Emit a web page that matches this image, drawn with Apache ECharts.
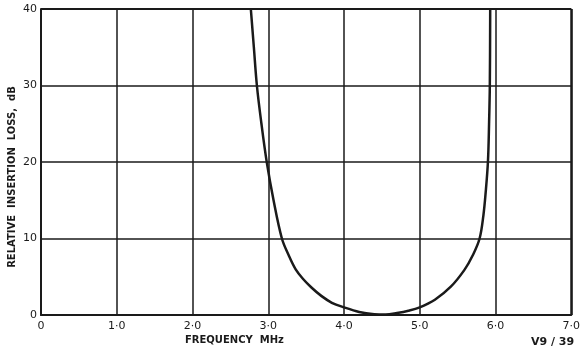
<!DOCTYPE html>
<html>
<head>
<meta charset="utf-8">
<script src="https://cdn.jsdelivr.net/npm/echarts@6/dist/echarts.min.js"></script>
<style>
  html, body { margin: 0; padding: 0; background: #fff; }
  #chart { width: 583px; height: 354px; }
</style>
</head>
<body>
<div id="chart"></div>
<script>
// frequency (MHz) and relative insertion loss (dB)
const freq = [2.77, 2.81, 2.85, 2.91, 2.98, 3.07, 3.18, 3.27, 3.36, 3.46, 3.57, 3.7, 3.84, 4.0, 4.2, 4.4, 4.55, 4.7, 4.85, 5.0, 5.2, 5.41, 5.59, 5.7, 5.79, 5.84, 5.87, 5.9, 5.915, 5.925, 5.93];
const loss = [40, 35, 30, 25, 20, 15, 10, 7.8, 6.0, 4.7, 3.6, 2.5, 1.6, 1.0, 0.4, 0.1, 0.05, 0.25, 0.55, 1.0, 2.0, 3.7, 5.9, 7.8, 10, 13, 16, 20, 25, 30, 40];
const xTicks = ['0', '1·0', '2·0', '3·0', '4·0', '5·0', '6·0', '7·0'];
const yTicks = ['0', '10', '20', '30', '40'];

const ink = '#1a1a1a';
const font = 'DejaVu Sans';

const chart = echarts.init(document.getElementById('chart'));
chart.setOption({
  backgroundColor: '#fff',
  animation: false,
  grid: { left: 41, right: 9, top: 9, bottom: 39 },
  xAxis: {
    type: 'value', min: 0, max: 7, interval: 1,
    axisLine: { show: true, lineStyle: { color: ink, width: 2 } },
    axisTick: { show: false },
    splitLine: { show: true, lineStyle: { color: ink, width: 1.5 } },
    axisLabel: {
      color: ink, fontFamily: font, fontSize: 11, margin: 6,
      formatter: (v) => xTicks[Math.round(v)]
    }
  },
  yAxis: {
    type: 'value', min: 0, max: 40, interval: 10,
    axisLine: { show: true, lineStyle: { color: ink, width: 2 } },
    axisTick: { show: false },
    splitLine: { show: true, lineStyle: { color: ink, width: 1.5 } },
    axisLabel: {
      color: ink, fontFamily: font, fontSize: 11, margin: 4,
      formatter: (v) => yTicks[Math.round(v / 10)]
    }
  },
  series: [
    {
      type: 'line',
      data: freq.map((f, i) => [f, loss[i]]),
      smooth: 0.35,
      showSymbol: false,
      lineStyle: { color: ink, width: 2.5 }
    },
    {
      // right-hand frame edge
      type: 'line',
      data: [[7, 0], [7, 40]],
      showSymbol: false,
      lineStyle: { color: ink, width: 2 },
      silent: true
    },
    {
      // top frame edge
      type: 'line',
      data: [[0, 40], [7, 40]],
      showSymbol: false,
      lineStyle: { color: ink, width: 2 },
      silent: true
    }
  ],
  graphic: [
    {
      type: 'text', left: 185, top: 335,
      style: { text: 'FREQUENCY  MHz', fill: ink, font: 'bold 10px ' + font }
    },
    {
      type: 'text', left: 531, top: 337,
      style: { text: 'V9 / 39', fill: ink, font: 'bold 11px ' + font }
    },
    {
      type: 'text', x: 12, y: 177, rotation: Math.PI / 2,
      style: {
        text: 'RELATIVE  INSERTION  LOSS,  dB', fill: ink,
        font: 'bold 10px ' + font, align: 'center', verticalAlign: 'middle'
      }
    }
  ]
});
</script>
</body>
</html>
